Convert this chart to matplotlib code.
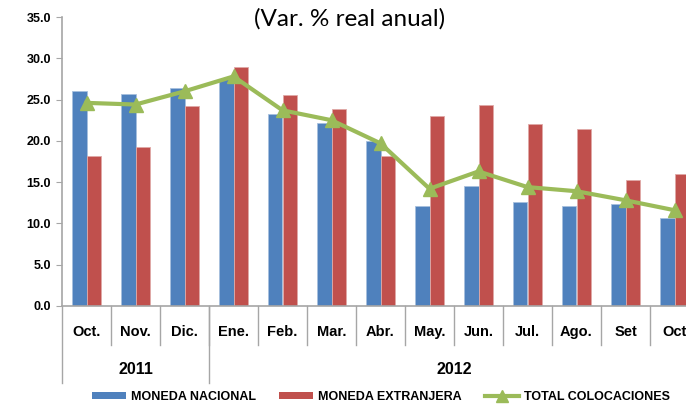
import matplotlib
matplotlib.use("Agg")
import matplotlib.pyplot as plt
import matplotlib.transforms as mtransforms
from matplotlib.patches import Patch
from matplotlib.lines import Line2D
import numpy as np

# data
months = ["Oct.", "Nov.", "Dic.", "Ene.", "Feb.", "Mar.", "Abr.",
          "May.", "Jun.", "Jul.", "Ago.", "Set", "Oct"]
years = ["2011", "2012"]
year_spans = [(0, 2), (3, 12)]  # first and last month index of each year
moneda_nacional = [26.0, 25.7, 26.4, 27.5, 23.3, 22.2, 20.0,
                   12.1, 14.5, 12.6, 12.1, 12.3, 10.6]
moneda_extranjera = [18.2, 19.3, 24.2, 28.9, 25.6, 23.9, 18.2,
                     23.0, 24.3, 22.0, 21.4, 15.3, 16.0]
total_colocaciones = [24.6, 24.4, 26.0, 27.8, 23.7, 22.5, 19.7,
                      14.2, 16.3, 14.4, 13.9, 12.8, 11.6]

blue = "#4F81BD"
red = "#C0504D"
green = "#9BBB59"
gray = "#A6A6A6"

plt.rcParams['font.family'] = ['Liberation Sans', 'DejaVu Sans']

fig = plt.figure(figsize=(6.86, 4.04), dpi=100)
ax = fig.add_axes([62 / 686, 1 - 306 / 404, 637 / 686, 289 / 404])

x = np.arange(len(months))
w = 0.29
ax.bar(x - w / 2, moneda_nacional, w, color=blue, edgecolor="#A7C0DE", linewidth=0.6)
ax.bar(x + w / 2, moneda_extranjera, w, color=red, edgecolor="#E0A9A7", linewidth=0.6)
ax.plot(x, total_colocaciones, color=green, linewidth=3, marker="^",
        markersize=10, markerfacecolor=green, markeredgecolor=green)

ax.set_xlim(-0.5, len(months) - 0.5)
ax.set_ylim(0, 35)
ax.set_yticks(np.arange(0, 35.1, 5))
ax.set_yticklabels(["%.1f" % v for v in np.arange(0, 35.1, 5)],
                   fontsize=9, fontweight="bold")
ax.tick_params(axis="y", length=4, color=gray, pad=4)
ax.set_xticks([])

for s in ["top", "right"]:
    ax.spines[s].set_visible(False)
for s in ["left", "bottom"]:
    ax.spines[s].set_color(gray)
    ax.spines[s].set_linewidth(1.2)

# category axis: month separators, year separators and labels
trans = mtransforms.blended_transform_factory(ax.transData, ax.transAxes)
for i in range(1, len(months)):
    ax.plot([i - 0.5, i - 0.5], [0, -0.135], color=gray, lw=1,
            transform=trans, clip_on=False)
for i, m in enumerate(months):
    ax.text(i, -0.09, m, transform=trans, ha="center", va="center",
            fontsize=10.5, fontweight="bold")
for (a, b), yr in zip(year_spans, years):
    ax.plot([a - 0.5, a - 0.5], [0, -0.266], color=gray, lw=1,
            transform=trans, clip_on=False)
    ax.text((a + b) / 2, -0.221, yr, transform=trans, ha="center",
            va="center", fontsize=11.5, fontweight="bold")

fig.text(350 / 686, 1 - 19 / 404, "(Var. % real anual)", ha="center",
         va="center", fontsize=17.5, family=["Lato", "DejaVu Sans"])

handles = [Patch(facecolor=blue, edgecolor="none"),
           Patch(facecolor=red, edgecolor="none"),
           Line2D([], [], color=green, lw=3, marker="^", markersize=8)]
labels = ["MONEDA NACIONAL", "MONEDA EXTRANJERA", "TOTAL COLOCACIONES"]
fig.legend(handles, labels, loc="center", bbox_to_anchor=(381 / 686, 1 - 397 / 404),
           ncol=3, frameon=False, handlelength=2.7, handleheight=0.5,
           handletextpad=0.4, columnspacing=1.85,
           prop={"size": 9, "weight": "bold"})

fig.savefig("out.png", dpi=100)
